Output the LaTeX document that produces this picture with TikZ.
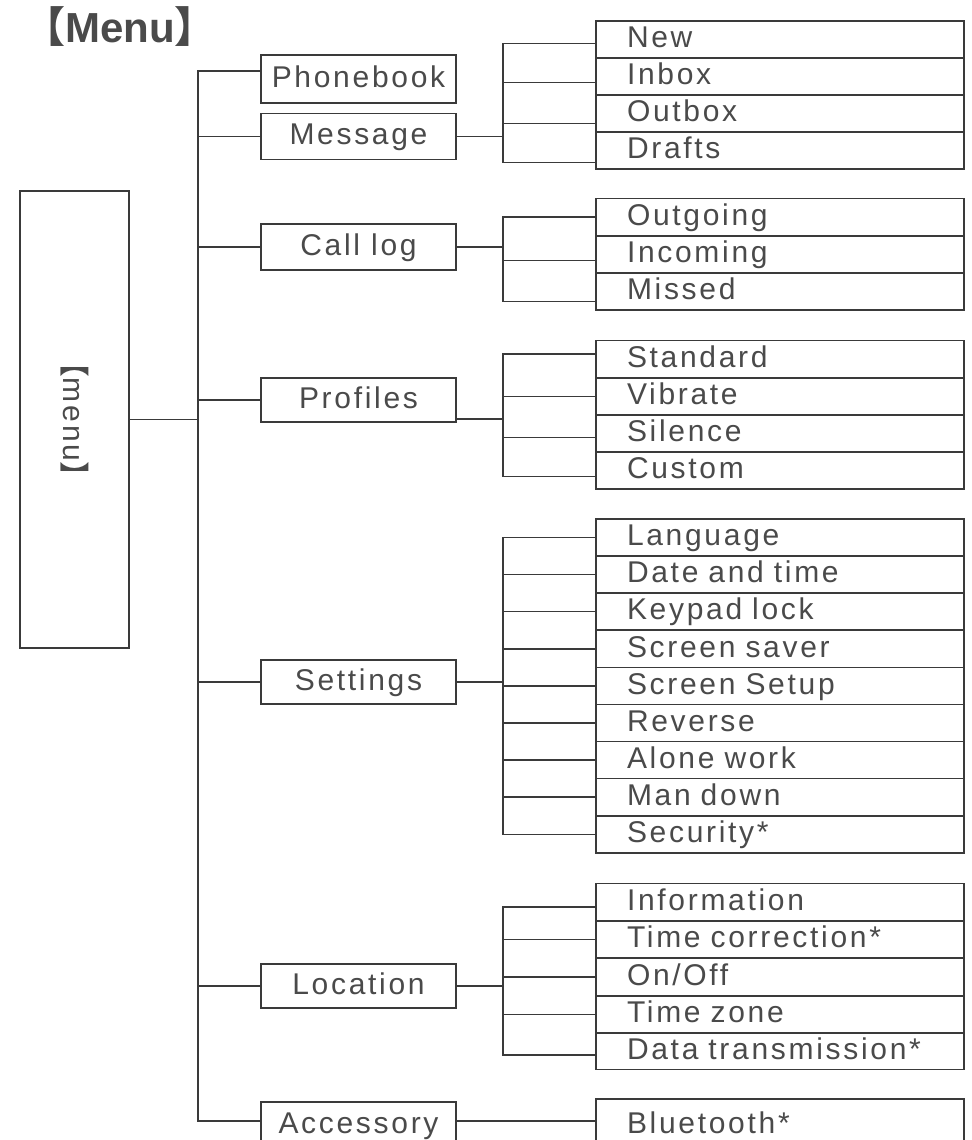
\documentclass[tikz,border=0pt]{standalone}
\usepackage{fontspec}
\setmainfont{Liberation Sans}
\newfontfamily\wide{Liberation Sans}[LetterSpace=9]
\newfontfamily\cjk{Noto Sans CJK SC}
\definecolor{ink}{HTML}{3A3A3A}
\definecolor{txt}{HTML}{4A4A4A}

\begin{document}
\begin{tikzpicture}[x=0.5pt,y=-0.5pt,line width=0.65pt,draw=ink,
  lvl/.style={draw,minimum width=97.5pt,minimum height=23pt,inner sep=0pt,
    text height=11pt,text depth=3pt,text=txt,font=\wide\fontsize{15pt}{17pt}\selectfont},
  item/.style={draw,minimum height=18.5pt,text width=153pt,inner xsep=15.5pt,inner ysep=0pt,
    align=left,text height=11pt,text depth=3pt,text=txt,font=\wide\fontsize{15pt}{17pt}\selectfont}]
  \useasboundingbox (0,0) rectangle (971,1140);

  \draw (120,27) node[text=txt,font=\fontsize{21pt}{24pt}\bfseries] (title)
    {{\cjk\bfseries 【}Menu{\cjk\bfseries 】}};
  \draw (74.5,419.5) node[draw,minimum width=54.5pt,minimum height=228.5pt,text=txt,
    font=\wide\fontsize{15pt}{17pt}\selectfont] (menu)
    {\rotatebox{-90}{{\cjk 【}menu{\cjk 】}}};

  \draw (358.5,79) node[lvl,minimum height=24pt] (pb) {Phonebook};
  \draw (358.5,136.5) node[lvl] (msg) {Message};
  \draw (358.5,247) node[lvl] (clog) {Call log};
  \draw (358.5,400) node[lvl,minimum height=22pt] (prof) {Profiles};
  \draw (358.5,682) node[lvl,minimum height=22pt] (sett) {Settings};
  \draw (358.5,986) node[lvl,minimum height=22pt] (loc) {Location};
  \draw (358.5,1125) node[lvl] (acc) {Accessory};

  \draw (780,39.5) node[item] (new) {New};
  \draw (780,76.5) node[item] (inbox) {Inbox};
  \draw (780,113.5) node[item] (outbox) {Outbox};
  \draw (780,150.5) node[item] (drafts) {Drafts};

  \draw (780,217) node[item] (outg) {Outgoing};
  \draw (780,254.5) node[item] (inc) {Incoming};
  \draw (780,291.5) node[item] (missed) {Missed};

  \draw (780,359) node[item] (std) {Standard};
  \draw (780,396.5) node[item] (vib) {Vibrate};
  \draw (780,433.5) node[item] (sil) {Silence};
  \draw (780,470.5) node[item] (cust) {Custom};

  \draw (780,537.5) node[item] (lang) {Language};
  \draw (780,574.5) node[item] (date) {Date and time};
  \draw (780,611.5) node[item] (keyl) {Keypad lock};
  \draw (780,649) node[item] (saver) {Screen saver};
  \draw (780,686) node[item] (setup) {Screen Setup};
  \draw (780,723) node[item] (rev) {Reverse};
  \draw (780,760) node[item] (alone) {Alone work};
  \draw (780,797) node[item] (mand) {Man down};
  \draw (780,834.5) node[item] (secu) {Security*};

  \draw (780,902) node[item] (info) {Information};
  \draw (780,939.5) node[item] (tcor) {Time correction*};
  \draw (780,977) node[item] (onoff) {On/Off};
  \draw (780,1014.5) node[item] (tzone) {Time zone};
  \draw (780,1051) node[item] (datatx) {Data transmission*};

  \draw (780,1125) node[item,minimum height=26pt] (bt) {Bluetooth*};

  \coordinate (trunk) at (198,419.5);
  \coordinate (msgfork) at (503,136.5);
  \coordinate (clogfork) at (503,247);
  \coordinate (proffork) at (503,419);
  \coordinate (settfork) at (503,682);
  \coordinate (locfork) at (503,986);

  \draw (menu.east)--(trunk);
  \draw (trunk) |- ([yshift=4pt]pb.west);
  \draw (trunk) |- (msg.west);
  \draw (trunk) |- (clog.west);
  \draw (trunk) |- (prof.west);
  \draw (trunk) |- (sett.west);
  \draw (trunk) |- (loc.west);
  \draw (trunk) |- ([yshift=2pt]acc.west);

  \draw (msg.east)--(msgfork);
  \draw (msgfork) |- ([yshift=-2pt]new.west);
  \draw (msgfork) |- ([yshift=-3pt]inbox.west);
  \draw (msgfork) |- ([yshift=-5pt]outbox.west);
  \draw (msgfork) |- ([yshift=-6pt]drafts.west);

  \draw (clog.east)--(clogfork);
  \draw (clogfork) |- (outg.west);
  \draw (clogfork) |- ([yshift=-3pt]inc.west);
  \draw (clogfork) |- ([yshift=-5pt]missed.west);

  \draw ([yshift=-9.5pt]prof.east)--(proffork);
  \draw (proffork) |- ([yshift=2.5pt]std.west);
  \draw (proffork) |- (vib.west);
  \draw (proffork) |- ([yshift=-2pt]sil.west);
  \draw (proffork) |- ([yshift=-3pt]cust.west);

  \draw (sett.east)--(settfork);
  \draw (settfork) |- (lang.west);
  \draw (settfork) |- (date.west);
  \draw (settfork) |- (keyl.west);
  \draw (settfork) |- (saver.west);
  \draw (settfork) |- (setup.west);
  \draw (settfork) |- (rev.west);
  \draw (settfork) |- (alone.west);
  \draw (settfork) |- (mand.west);
  \draw (settfork) |- (secu.west);

  \draw (loc.east)--(locfork);
  \draw (locfork) |- ([yshift=-2.5pt]info.west);
  \draw (locfork) |- (tcor.west);
  \draw (locfork) |- (onoff.west);
  \draw (locfork) |- (tzone.west);
  \draw (locfork) |- ([yshift=-2pt]datatx.west);

  \draw ([yshift=2pt]acc.east)--([yshift=2pt]bt.west);
\end{tikzpicture}
\end{document}
